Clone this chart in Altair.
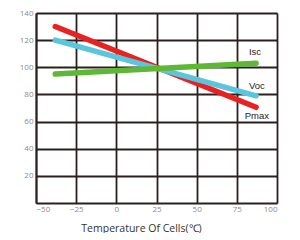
import altair as alt
import pandas as pd

series = ["Pmax", "Pmax", "Voc", "Voc", "Isc", "Isc"]
temps = [-38, 87, -38, 87, -38, 87]
values = [130, 70.5, 120, 79, 95, 103]

label_names = ["Isc", "Voc", "Pmax"]
label_x = [86.3, 87.5, 87.5]
label_y = [111, 86, 64]

x_ticks = [-50, -25, 0, 25, 50, 75, 100]
y_ticks = [20, 40, 60, 80, 100, 120, 140]

colors = {"Pmax": "#e82220", "Voc": "#5bc5dc", "Isc": "#5db833"}

df = pd.DataFrame({"series": series, "t": temps, "v": values})
lab = pd.DataFrame({"name": label_names, "x": label_x, "y": label_y})

grid = "#2a2020"
xs = alt.Scale(domain=[-50, 100], nice=False)
ys = alt.Scale(domain=[0, 140], nice=False)

lines = alt.Chart(df).mark_line(strokeWidth=5.5, strokeCap="round").encode(
    x=alt.X("t:Q", scale=xs, axis=alt.Axis(
        values=x_ticks, tickCount=10, title="Temperature Of Cells(℃)",
        grid=True, gridColor=grid, gridWidth=1.8, gridOpacity=1,
        domainColor=grid, domainWidth=1.8, ticks=False, labelOverlap=False,
        labelColor="#8a8a8a", labelFontSize=8, labelFont="Open Sans", labelPadding=2,
        titleFont="Open Sans", titleFontSize=10.5, titleFontWeight="normal", titleColor="#333333",
        titleX=105, titleY=20, titleAlign="center", titleBaseline="top")),
    y=alt.Y("v:Q", scale=ys, axis=alt.Axis(
        values=y_ticks, tickCount=10, title=None,
        grid=True, gridColor=grid, gridWidth=1.8, gridOpacity=1,
        domainColor=grid, domainWidth=1.8, ticks=False, labelOverlap=False,
        labelColor="#8a8a8a", labelFontSize=8, labelFont="Open Sans", labelPadding=3)),
    color=alt.Color("series:N", scale=alt.Scale(domain=list(colors.keys()), range=list(colors.values())), legend=None),
    detail="series:N",
)

texts = alt.Chart(lab).mark_text(fontSize=9.5, font="Liberation Sans", color="#222222").encode(
    x=alt.X("x:Q", scale=xs),
    y=alt.Y("y:Q", scale=ys),
    text="name:N",
)

chart = alt.layer(lines, texts).properties(
    width=241, height=190,
    autosize=alt.AutoSizeParams(type="none"),
    padding={"left": 28, "top": 5, "right": 10, "bottom": 30},
).configure_view(stroke=grid, strokeWidth=1.8).configure(background="white")

chart.save("out.html", embed_options={"renderer": "svg", "actions": False})
